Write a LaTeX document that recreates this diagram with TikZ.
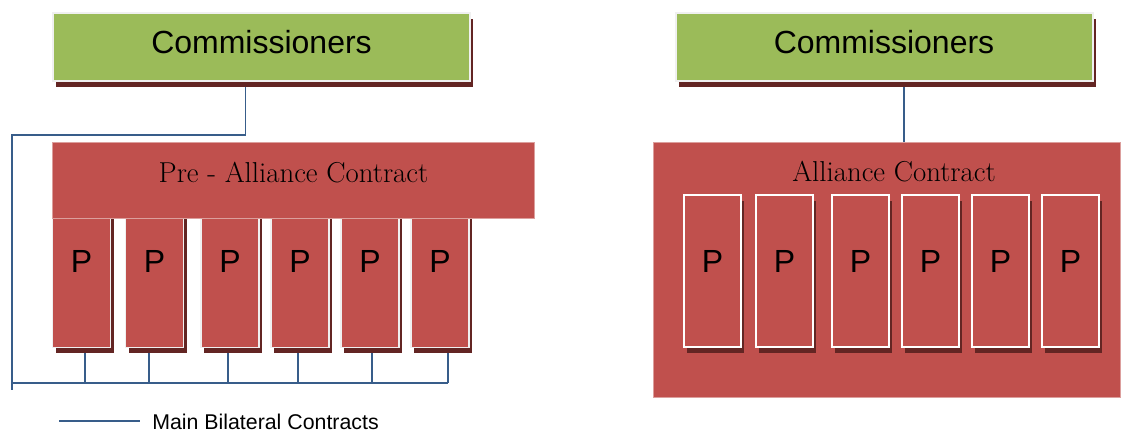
\documentclass[tikz,border=0pt]{standalone}
\usepackage{fontspec}
\usepackage{xcolor}
\usetikzlibrary{shadows,backgrounds}

\newfontfamily\arialfont{Liberation Sans}

\definecolor{leafgreen}{RGB}{155,187,89}
\definecolor{brick}{RGB}{192,80,77}
\definecolor{brickdark}{RGB}{99,37,35}
\definecolor{linkblue}{RGB}{56,93,138}
\definecolor{paleedge}{RGB}{240,240,240}

\tikzset{
  boxshadow/.style={general shadow={fill=brickdark, shadow xshift=2.25pt, shadow yshift=-4.5pt}},
  commbox/.style={fill=leafgreen, draw=paleedge, line width=1.5pt, boxshadow,
    minimum width=312.75pt, inner ysep=0pt, text height=30.2pt, text depth=20.8pt,
    font=\arialfont\fontsize{24}{28}\selectfont},
  stubbox/.style={fill=brick, draw=paleedge, line width=1.1pt, boxshadow, anchor=south,
    minimum width=43.5pt, inner ysep=0pt, text height=44.25pt, text depth=56.25pt,
    font=\arialfont\fontsize{24}{28}\selectfont},
  partybox/.style={fill=brick, draw=white, line width=1.5pt, boxshadow, anchor=south,
    minimum width=42.75pt, inner ysep=0pt, text height=57.75pt, text depth=56.25pt,
    font=\arialfont\fontsize{24}{28}\selectfont},
  contractbox/.style={fill=brick, draw=brick!55!white, line width=0.4pt},
  contractlabel/.style={anchor=base, inner sep=0pt, font=\rmfamily\fontsize{21.6}{25}\selectfont},
  contract/.style={draw=linkblue, line width=1.1pt}
}

\begin{document}
\begin{tikzpicture}[x=0.75pt,y=0.75pt,yscale=-1,xscale=1]
\useasboundingbox (0,0) rectangle (1122,433);

% pre-alliance side
\node[commbox] (comm1) at (261.5,47) {Commissioners};
\foreach \cx/\dx [count=\i] in {81.5/85, 154.5/149, 230/228, 300/298, 370/372, 440/448}{
  \node[stubbox] (stub\i) at (\cx,348) {P};
  \coordinate (tap\i) at (\dx,383);
}
\node[contractbox, minimum width=361.5pt, minimum height=57pt] (prebox) at (293,180) {};
\node[contractlabel] (pretext) at (293.5,182.5) {Pre - Alliance Contract};

\coordinate (split) at (245.7,135);
\coordinate (corner) at (12,135);
\coordinate (foot) at (12,390);

% alliance side
\node[commbox] (comm2) at (884,47) {Commissioners};
\node[contractbox, minimum width=350.25pt, minimum height=191.25pt] (allbox) at (886.5,269.5) {};
\node[contractlabel] (alltext) at (894,181.7) {Alliance Contract};
\foreach \cx [count=\i] in {712.5, 784.5, 860.5, 930.5, 1000.5, 1070.5}
  \node[partybox] (party\i) at (\cx,348) {P};
\coordinate (rsplit) at (904,100);

% key
\coordinate (keyline) at (59,421);
\node[anchor=base west, inner sep=0pt, font=\arialfont\fontsize{16}{19}\selectfont] (keytext) at (152,429) {Main Bilateral Contracts};

% contract lines go under the boxes
\begin{scope}[on background layer]
  \draw[contract] (comm1.south -| split) -- (split) -- (corner) -- (foot);
  \draw[contract] (corner |- tap6) -- (tap6);
  \foreach \i in {1,...,6}
    \draw[contract] (tap\i) -- (tap\i |- stub\i.south);
  \draw[contract] (comm2.south -| rsplit) -- (allbox.north -| rsplit);
  \draw[contract] (keyline) -- ++(81,0);
\end{scope}

\end{tikzpicture}
\end{document}
